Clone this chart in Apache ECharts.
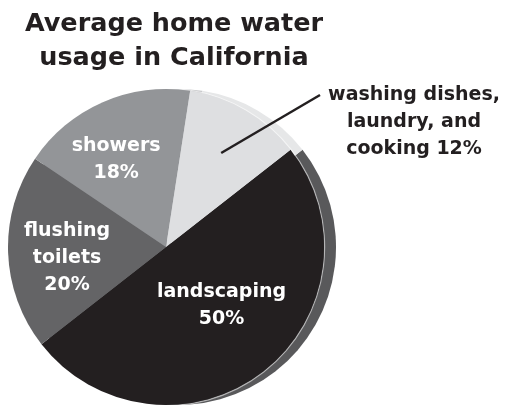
<!DOCTYPE html>
<html>
<head>
<meta charset="utf-8">
<script src="https://cdn.jsdelivr.net/npm/echarts@6/dist/echarts.min.js"></script>
<style>
  html, body { margin: 0; padding: 0; background: #ffffff; }
  #chart { width: 505px; height: 410px; }
</style>
</head>
<body>
<div id="chart"></div>
<script>
// Average home water usage in California (percent of total)
const categories = ['landscaping', 'flushing\ntoilets', 'showers', 'washing dishes,\nlaundry, and\ncooking'];
const shares = [50, 20, 18, 12];

const faceColors = ['#231f20', '#646466', '#939598', '#dedfe1'];
const rimColors = ['#59595b', '#6e6e70', '#c9cacc', '#e6e7e8'];

const FONT = 'DejaVu Sans';
const CENTER = [166, 247];
const RIM_CENTER = [178, 247];
const RADIUS = 158;
const START = 38;

// small nudges for the in-slice labels
const insideOffsets = [[5, -6], [-17, 8], [-17, -12], [0, 0]];

const chart = echarts.init(document.getElementById('chart'), null, { renderer: 'canvas' });

function sliceData(colors) {
  return categories.map((name, i) => ({
    name: name,
    value: shares[i],
    itemStyle: { color: colors[i] }
  }));
}

// transparent copy of the face that carries the labels above everything
const labelData = categories.map((name, i) => {
  const outside = i === 3;
  return {
    name: name,
    value: shares[i],
    itemStyle: { color: 'rgba(0,0,0,0)' },
    label: outside ? {
      position: 'outside',
      color: '#231f20',
      formatter: '{b} {c}%'
    } : {
      position: 'inside',
      color: '#ffffff',
      formatter: '{b}\n{c}%',
      offset: insideOffsets[i]
    },
    labelLine: { show: outside, lineStyle: { color: '#231f20', width: 2.5 } }
  };
});

const baseSeries = {
  type: 'pie',
  startAngle: START,
  clockwise: true,
  label: { show: false },
  labelLine: { show: false }
};

chart.setOption({
  animation: false,
  backgroundColor: '#ffffff',
  title: {
    text: 'Average home water\nusage in California',
    left: 169,
    top: 2,
    textAlign: 'center',
    textStyle: {
      fontFamily: FONT,
      fontWeight: 'bold',
      fontSize: 25.5,
      lineHeight: 34,
      color: '#231f20'
    }
  },
  series: [
    Object.assign({}, baseSeries, {
      // disc edge, seen behind the face
      silent: true,
      z: 1,
      center: RIM_CENTER,
      radius: RADIUS,
      data: sliceData(rimColors)
    }),
    Object.assign({}, baseSeries, {
      // thin highlight where the face meets the edge
      silent: true,
      z: 2,
      center: CENTER,
      radius: [RADIUS, RADIUS + 1.2],
      data: sliceData(categories.map(() => 'rgba(255,255,255,0.55)'))
    }),
    Object.assign({}, baseSeries, {
      z: 3,
      center: CENTER,
      radius: RADIUS,
      data: sliceData(faceColors)
    }),
    {
      type: 'pie',
      silent: true,
      z: 4,
      center: CENTER,
      radius: RADIUS,
      startAngle: START,
      clockwise: true,
      label: {
        show: true,
        fontFamily: FONT,
        fontWeight: 'bold',
        fontSize: 19,
        lineHeight: 27,
        align: 'center'
      },
      labelLayout: function (params) {
        if (params.dataIndex !== 3) return {};
        const p0 = params.labelLinePoints ? params.labelLinePoints[0] : null;
        let start = [217, 152];
        if (p0) {
          start = [CENTER[0] + (p0[0] - CENTER[0]) * 0.69, CENTER[1] + (p0[1] - CENTER[1]) * 0.69];
        }
        const lx = 414, ly = 122;
        const end = [lx - 94, ly - 27];
        return {
          x: lx,
          y: ly,
          align: 'center',
          verticalAlign: 'middle',
          labelLinePoints: [start, end, end]
        };
      },
      data: labelData
    }
  ]
});
</script>
</body>
</html>
